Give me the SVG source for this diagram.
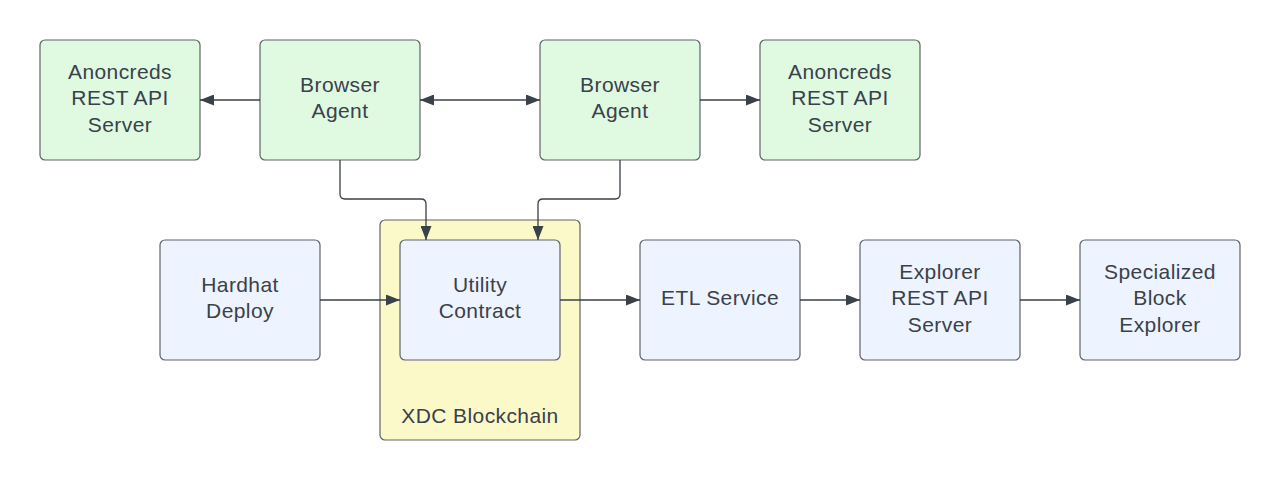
<svg xmlns="http://www.w3.org/2000/svg" width="1280" height="480" viewBox="0 0 1280 480">
<style>
.g{fill:#e0f9e1;stroke:#5f6368;stroke-width:1.2}
.b{fill:#edf4ff;stroke:#5f6368;stroke-width:1.2}
.y{fill:#fcf9c9;stroke:#5f6368;stroke-width:1.2}
text{font-family:"Liberation Sans",Arial,sans-serif;font-size:21px;letter-spacing:0.4px;fill:#3a414a;text-anchor:middle}
.c path{fill:none;stroke:#3a414a;stroke-width:1.3}
</style>
<defs>
<marker id="ah" viewBox="0 0 14 11" refX="14" refY="5.5" markerWidth="14" markerHeight="11" markerUnits="userSpaceOnUse" orient="auto-start-reverse">
<path d="M0,0 L14,5.5 L0,11 Z" fill="#3a414a"/>
</marker>
</defs>
<rect width="1280" height="480" fill="#ffffff"/>
<g id="xdc"><rect class="y" x="380" y="220" width="200" height="220" rx="5"/><text x="480" y="423">XDC Blockchain</text></g>
<g id="anon1"><rect class="g" x="40" y="40" width="160" height="120" rx="5"/><text x="120" y="79">Anoncreds</text><text x="120" y="105">REST API</text><text x="120" y="132">Server</text></g>
<g id="browser1"><rect class="g" x="260" y="40" width="160" height="120" rx="5"/><text x="340" y="92">Browser</text><text x="340" y="118">Agent</text></g>
<g id="browser2"><rect class="g" x="540" y="40" width="160" height="120" rx="5"/><text x="620" y="92">Browser</text><text x="620" y="118">Agent</text></g>
<g id="anon2"><rect class="g" x="760" y="40" width="160" height="120" rx="5"/><text x="840" y="79">Anoncreds</text><text x="840" y="105">REST API</text><text x="840" y="132">Server</text></g>
<g id="hardhat"><rect class="b" x="160" y="240" width="160" height="120" rx="5"/><text x="240" y="292">Hardhat</text><text x="240" y="318">Deploy</text></g>
<g id="utility"><rect class="b" x="400" y="240" width="160" height="120" rx="5"/><text x="480" y="292">Utility</text><text x="480" y="318">Contract</text></g>
<g id="etl"><rect class="b" x="640" y="240" width="160" height="120" rx="5"/><text x="720" y="305">ETL Service</text></g>
<g id="explorer"><rect class="b" x="860" y="240" width="160" height="120" rx="5"/><text x="940" y="279">Explorer</text><text x="940" y="305">REST API</text><text x="940" y="332">Server</text></g>
<g id="specialized"><rect class="b" x="1080" y="240" width="160" height="120" rx="5"/><text x="1160" y="279">Specialized</text><text x="1160" y="305">Block</text><text x="1160" y="332">Explorer</text></g>
<g class="c" id="connectors">
<path d="M260,100 H200" marker-end="url(#ah)"/>
<path d="M420,100 H540" marker-start="url(#ah)" marker-end="url(#ah)"/>
<path d="M700,100 H760" marker-end="url(#ah)"/>
<path d="M340,160 V194 Q340,199 345,199 H421 Q426,199 426,204 V240" marker-end="url(#ah)"/>
<path d="M620,160 V194 Q620,199 615,199 H543 Q538,199 538,204 V240" marker-end="url(#ah)"/>
<path d="M320,300 H400" marker-end="url(#ah)"/>
<path d="M560,300 H640" marker-end="url(#ah)"/>
<path d="M800,300 H860" marker-end="url(#ah)"/>
<path d="M1020,300 H1080" marker-end="url(#ah)"/>
</g>
</svg>
